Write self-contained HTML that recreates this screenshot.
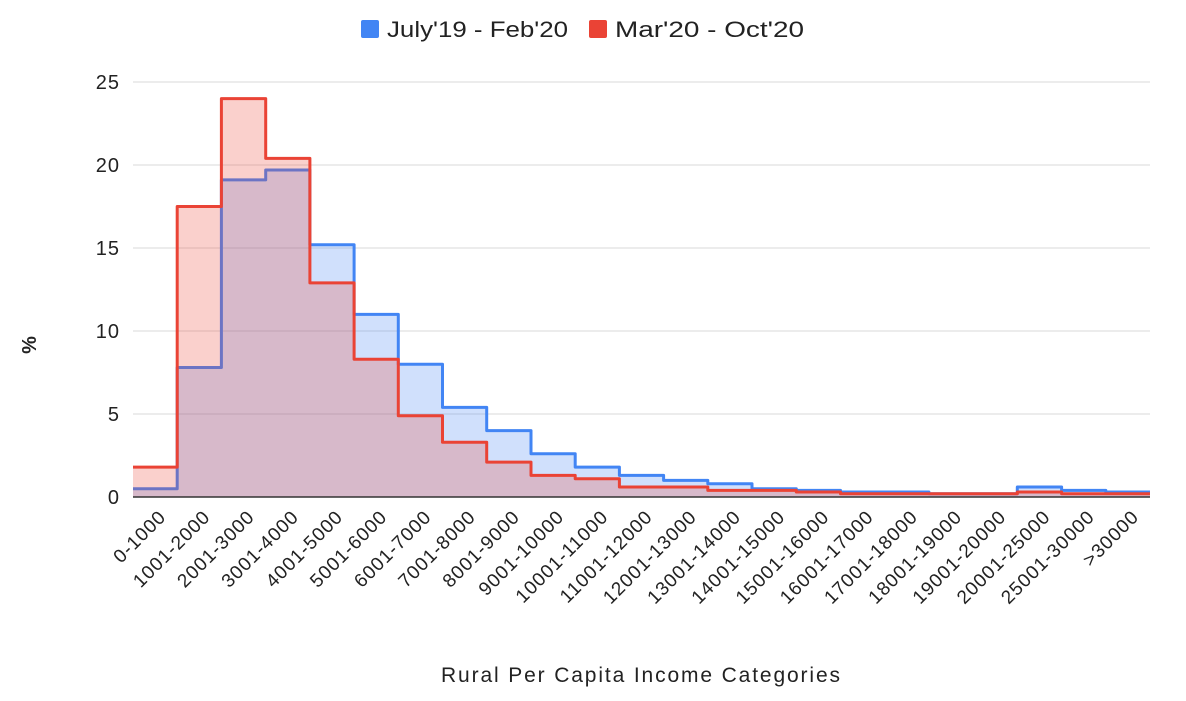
<!DOCTYPE html>
<html><head><meta charset="utf-8"><style>
body{margin:0;background:#fff;width:1186px;height:696px;overflow:hidden;font-family:"Liberation Sans",Arial,sans-serif}
</style></head><body>
<svg id="s" width="1186" height="696" xmlns="http://www.w3.org/2000/svg" font-family="Liberation Sans, Arial, sans-serif">
<g stroke="#d9d9d9" stroke-width="1">
<line x1="133" x2="1150" y1="82" y2="82"/><line x1="133" x2="1150" y1="165" y2="165"/>
<line x1="133" x2="1150" y1="248" y2="248"/><line x1="133" x2="1150" y1="331" y2="331"/>
<line x1="133" x2="1150" y1="414" y2="414"/>
</g>
<g font-size="20" fill="#222" text-anchor="end" letter-spacing="1">
<text x="120" y="89">25</text><text x="120" y="172">20</text><text x="120" y="255">15</text>
<text x="120" y="338">10</text><text x="120" y="421">5</text><text x="120" y="504">0</text>
</g>
<g id="series"></g>
<line x1="133" x2="1150" y1="497" y2="497" stroke="#333" stroke-width="1.5"/>
<text x="36" y="345" font-size="20" font-weight="bold" fill="#222" transform="rotate(-90 36 345)" text-anchor="middle">%</text>
<text x="441" y="682" font-size="21" fill="#222" textLength="399" lengthAdjust="spacing">Rural Per Capita Income Categories</text>
<rect x="361" y="20" width="18" height="18" rx="2" fill="#4285f4"/>
<text x="387" y="37" font-size="22" fill="#222" textLength="181" lengthAdjust="spacingAndGlyphs">July'19 - Feb'20</text>
<rect x="589" y="20" width="18" height="18" rx="2" fill="#ea4335"/>
<text x="615" y="37" font-size="22" fill="#222" textLength="189" lengthAdjust="spacingAndGlyphs">Mar'20 - Oct'20</text>
<g id="labels" font-size="19" fill="#222" text-anchor="end" letter-spacing="1">
<text>0-1000</text><text>1001-2000</text><text>2001-3000</text><text>3001-4000</text><text>4001-5000</text><text>5001-6000</text><text>6001-7000</text><text>7001-8000</text><text>8001-9000</text><text>9001-10000</text><text>10001-11000</text><text>11001-12000</text><text>12001-13000</text><text>13001-14000</text><text>14001-15000</text><text>15001-16000</text><text>16001-17000</text><text>17001-18000</text><text>18001-19000</text><text>19001-20000</text><text>20001-25000</text><text>25001-30000</text><text>&gt;30000</text>
</g>
</svg>
<script>
var x0=133,w=1017/23,y0=497,k=16.6;
var b=[0.5,7.8,19.1,19.7,15.2,11,8,5.4,4,2.6,1.8,1.3,1,0.8,0.5,0.4,0.3,0.3,0.2,0.2,0.6,0.4,0.3];
var r=[1.8,17.5,24,20.4,12.9,8.3,4.9,3.3,2.1,1.3,1.1,0.6,0.6,0.4,0.4,0.3,0.2,0.2,0.2,0.2,0.3,0.2,0.2];
function p(v){var d="";for(var i=0;i<v.length;i++){var y=(y0-v[i]*k).toFixed(1);d+=(i?"L":"M")+(x0+i*w).toFixed(1)+" "+y+"L"+(x0+(i+1)*w).toFixed(1)+" "+y;}return d;}
var g=document.getElementById("series"),h="";
[[b,"#4285f4","rgba(66,133,244,0.25)"],[r,"#ea4335","rgba(234,67,53,0.25)"]].forEach(function(s){
var d=p(s[0]);h+='<path d="'+d+'L'+(x0+23*w)+' '+y0+'L'+x0+' '+y0+'Z" fill="'+s[2]+'"/>';
h+='<path d="'+d+'" fill="none" stroke="'+s[1]+'" stroke-width="3" stroke-linejoin="round"/>';});
g.innerHTML=h;
var t=document.querySelectorAll("#labels text");
t.forEach(function(e,i){var cx=x0+(i+0.5)*w+12,cy=518;e.setAttribute("x",cx);e.setAttribute("y",cy);e.setAttribute("transform","rotate(-45 "+cx+" "+cy+")");});
</script>
</body></html>
